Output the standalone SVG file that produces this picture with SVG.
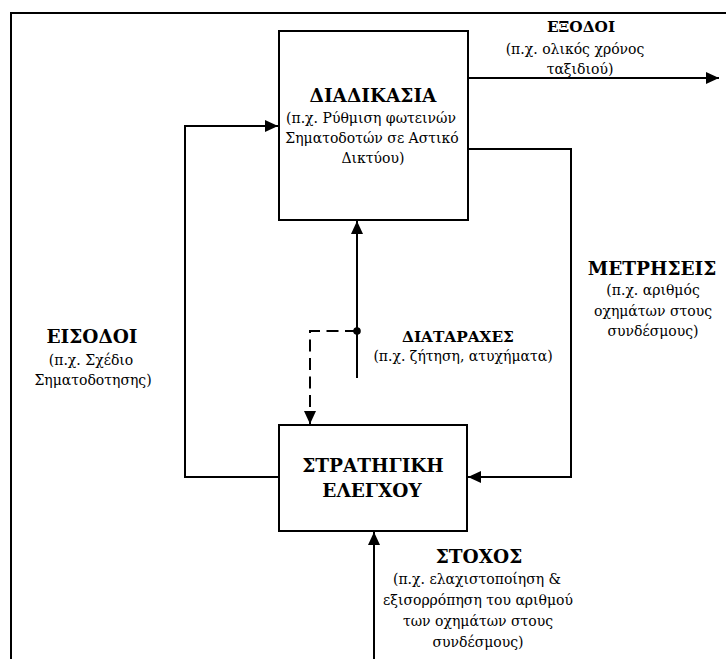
<svg xmlns="http://www.w3.org/2000/svg" width="726" height="659" viewBox="0 0 726 659">
<style>
text{font-family:"DejaVu Serif","Liberation Serif",serif;fill:#000;text-anchor:middle}
.h{font-weight:bold;font-size:18.5px}
.hs{font-weight:bold;font-size:15.3px}
.t{font-size:14px}
.box{fill:#fff;stroke:#000;stroke-width:2}
.ln{fill:none;stroke:#000;stroke-width:2}
.dash{fill:none;stroke:#000;stroke-width:2;stroke-dasharray:12 6.5}
</style>
<defs>
<marker id="ah" markerUnits="userSpaceOnUse" markerWidth="14" markerHeight="12" refX="13" refY="6" orient="auto">
<path d="M0,0 L13,6 L0,12 Z" fill="#000"/>
</marker>
</defs>
<rect width="726" height="659" fill="#fff"/>
<path class="ln" d="M11,659 V13 H726"/>
<g id="connectors">
<path class="ln" d="M468,78 H719" marker-end="url(#ah)"/>
<path class="ln" d="M468,149 H571 V477 H468" marker-end="url(#ah)"/>
<path class="ln" d="M279,477 H185 V126 H278" marker-end="url(#ah)"/>
<path class="ln" d="M357,378 V221" marker-end="url(#ah)"/>
<path class="dash" d="M357,331 H310 V424" marker-end="url(#ah)"/>
<circle cx="357" cy="331" r="3.8" fill="#000"/>
<path class="ln" d="M374,659 V532" marker-end="url(#ah)"/>
</g>
<g id="process">
<rect class="box" x="279" y="31" width="189" height="189"/>
<text class="h" x="373" y="102">ΔΙΑΔΙΚΑΣΙΑ</text>
<text class="t" x="371" y="123">(π.χ. Ρύθμιση φωτεινών</text>
<text class="t" x="372" y="143">Σηματοδοτών σε Αστικό</text>
<text class="t" x="373" y="163">Δικτύου)</text>
</g>
<g id="strategy">
<rect class="box" x="279" y="425" width="188" height="106"/>
<text class="h" x="373" y="472">ΣΤΡΑΤΗΓΙΚΗ</text>
<text class="h" x="372" y="497">ΕΛΕΓΧΟΥ</text>
</g>
<g id="outputs">
<text class="hs" x="581" y="32">ΕΞΟΔΟΙ</text>
<text class="t" x="575" y="54">(π.χ. ολικός χρόνος</text>
<text class="t" x="580" y="74">ταξιδιού)</text>
</g>
<g id="measurements">
<text class="h" x="652" y="275">ΜΕΤΡΗΣΕΙΣ</text>
<text class="t" x="653" y="295">(π.χ. αριθμός</text>
<text class="t" x="653" y="316">οχημάτων στους</text>
<text class="t" x="653" y="336">συνδέσμους)</text>
</g>
<g id="inputs">
<text class="h" x="92" y="343">ΕΙΣΟΔΟΙ</text>
<text class="t" x="91" y="365">(π.χ. Σχέδιο</text>
<text class="t" x="93" y="385">Σηματοδοτησης)</text>
</g>
<g id="disturbances">
<text class="hs" x="458" y="342">ΔΙΑΤΑΡΑΧΕΣ</text>
<text class="t" x="463" y="361">(π.χ. ζήτηση, ατυχήματα)</text>
</g>
<g id="goal">
<text class="h" x="479" y="563">ΣΤΟΧΟΣ</text>
<text class="t" x="477" y="584">(π.χ. ελαχιστοποίηση &amp;</text>
<text class="t" x="478" y="605">εξισορρόπηση του αριθμού</text>
<text class="t" x="478" y="626">των οχημάτων στους</text>
<text class="t" x="478" y="647">συνδέσμους)</text>
</g>
</svg>
